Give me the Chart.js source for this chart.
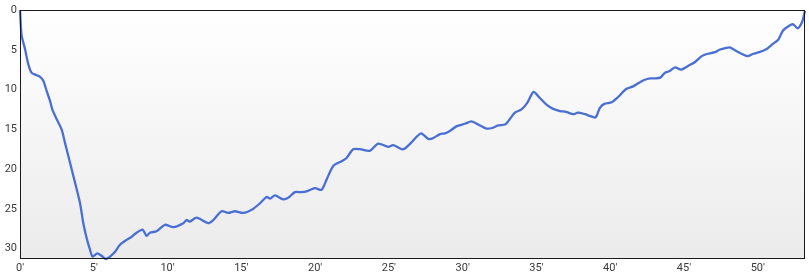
<!DOCTYPE html>
<html>
<head>
<meta charset="utf-8">
<script src="https://cdn.jsdelivr.net/npm/chart.js@4/dist/chart.umd.min.js"></script>
<style>
  html, body { margin: 0; padding: 0; background: #fff; overflow: hidden; }
</style>
</head>
<body>
<canvas id="depth_chart" width="809" height="280"></canvas>
<script>
// time in minutes, depth in metres
const times = [0, 0.11, 0.34, 0.56, 0.79, 1.13, 1.36, 1.58, 1.81, 2.03, 2.19, 2.48, 2.82, 3.05, 3.39, 3.73, 4.07, 4.29, 4.52, 4.74,
  4.92, 5.24, 5.53, 5.83, 6.10, 6.44, 6.78, 7.23, 7.57, 7.90, 8.31, 8.58, 8.8, 9.26, 9.82, 10.39, 11.07, 11.29, 11.5, 11.97,
  12.76, 13.1, 13.66, 14.1, 14.57, 15.13, 15.8, 16.26, 16.71, 16.94, 17.28, 17.84, 18.18, 18.63, 19.08, 19.42, 19.99, 20.44, 20.78, 21.23,
  21.8, 22.13, 22.58, 23.04, 23.7, 24.28, 24.95, 25.3, 25.86, 26.08, 26.5, 26.9, 27.2, 27.67, 28.0, 28.46, 28.8, 29.13, 29.6, 30.15,
  30.6, 31.05, 31.6, 32.07, 32.4, 32.86, 33.08, 33.54, 33.99, 34.4, 34.8, 35.2, 35.68, 36.1, 36.6, 37.0, 37.5, 37.8, 38.3, 38.6,
  39.0, 39.3, 39.6, 40.1, 40.5, 41.1, 41.55, 42.0, 42.3, 42.7, 43.0, 43.4, 43.7, 44.0, 44.4, 44.8, 45.3, 45.7, 46.2, 46.6,
  47.1, 47.4, 47.8, 48.1, 48.4, 48.9, 49.3, 49.7, 50.1, 50.6, 51.0, 51.4, 51.7, 52.1, 52.4, 52.7, 53.0, 53.2];
const depths = [0, 3.2, 4.9, 6.8, 7.9, 8.2, 8.4, 8.9, 10.2, 11.4, 12.5, 13.7, 15.0, 16.7, 19.2, 21.7, 24.3, 26.8, 28.7, 30.1,
  31.0, 30.6, 30.9, 31.3, 31.0, 30.4, 29.5, 28.9, 28.5, 28.0, 27.6, 28.4, 28.0, 27.8, 27.0, 27.3, 26.8, 26.4, 26.6, 26.1,
  26.8, 26.4, 25.3, 25.5, 25.3, 25.5, 25.0, 24.3, 23.5, 23.7, 23.3, 23.8, 23.6, 22.9, 22.9, 22.8, 22.4, 22.6, 21.3, 19.6,
  19.0, 18.6, 17.5, 17.5, 17.7, 16.8, 17.2, 17.0, 17.5, 17.4, 16.7, 15.9, 15.5, 16.2, 16.1, 15.6, 15.5, 15.2, 14.6, 14.3,
  14.0, 14.4, 14.9, 14.8, 14.5, 14.4, 14.0, 12.9, 12.5, 11.6, 10.3, 11.0, 11.9, 12.4, 12.7, 12.8, 13.1, 12.9, 13.1, 13.3,
  13.5, 12.3, 11.8, 11.6, 11.0, 9.9, 9.6, 9.1, 8.8, 8.6, 8.6, 8.5, 7.9, 7.7, 7.2, 7.5, 7.0, 6.6, 5.8, 5.5,
  5.3, 5.0, 4.8, 4.7, 5.0, 5.5, 5.8, 5.5, 5.3, 4.9, 4.3, 3.7, 2.6, 2.0, 1.8, 2.3, 1.5, 0.1];
const timeMax = 53.2;
const depthMax = 31.3;
const tickValues = [0, 5, 10, 15, 20, 25, 30, 35, 40, 45, 50];

const points = times.map((t, i) => ({ x: t, y: depths[i] }));

// plot background gradient + frame
const plotFrame = {
  id: 'plotFrame',
  beforeDraw(chart) {
    const { ctx, chartArea: a } = chart;
    const g = ctx.createLinearGradient(0, a.top, 0, a.bottom);
    g.addColorStop(0, '#ffffff');
    g.addColorStop(1, '#ebebeb');
    ctx.save();
    ctx.fillStyle = g;
    ctx.fillRect(a.left, a.top, a.right - a.left, a.bottom - a.top);
    ctx.restore();
  },
  afterDatasetsDraw(chart) {
    const { ctx, chartArea: a } = chart;
    ctx.save();
    ctx.strokeStyle = '#1a1a1a';
    ctx.lineWidth = 1;
    ctx.strokeRect(a.left + 0.5, a.top + 0.5, a.right - a.left - 1, a.bottom - a.top - 1);
    ctx.restore();
  }
};

const keepTicks = max => scale => {
  scale.ticks = tickValues.filter(v => v <= max).map(v => ({ value: v }));
};

const ctx = document.getElementById('depth_chart').getContext('2d');

new Chart(ctx, {
  type: 'line',
  data: {
    datasets: [{
      data: points,
      borderColor: '#4a6fd4',
      borderWidth: 2.3,
      pointRadius: 0,
      tension: 0.25,
      fill: false,
      clip: 3
    }]
  },
  options: {
    responsive: false,
    animation: false,
    layout: { padding: { top: 10, right: 4, left: 0, bottom: 0 } },
    plugins: {
      legend: { display: false },
      tooltip: { enabled: false }
    },
    scales: {
      x: {
        type: 'linear',
        min: 0,
        max: timeMax,
        grid: { display: false, drawTicks: false },
        border: { display: false },
        afterBuildTicks: keepTicks(timeMax),
        afterFit: scale => { scale.height = 21; },
        ticks: {
          maxRotation: 0,
          autoSkip: false,
          padding: 3,
          color: '#3a3a3a',
          font: { family: 'Roboto', size: 11 },
          callback: v => v + "'"
        }
      },
      y: {
        min: 0,
        max: depthMax,
        reverse: true,
        grid: { display: false, drawTicks: false },
        border: { display: false },
        afterBuildTicks: keepTicks(depthMax),
        afterFit: scale => { scale.width = 20; },
        ticks: {
          autoSkip: false,
          padding: 3,
          color: '#3a3a3a',
          font: { family: 'Roboto', size: 11 }
        }
      }
    }
  },
  plugins: [plotFrame]
});
</script>
</body>
</html>
